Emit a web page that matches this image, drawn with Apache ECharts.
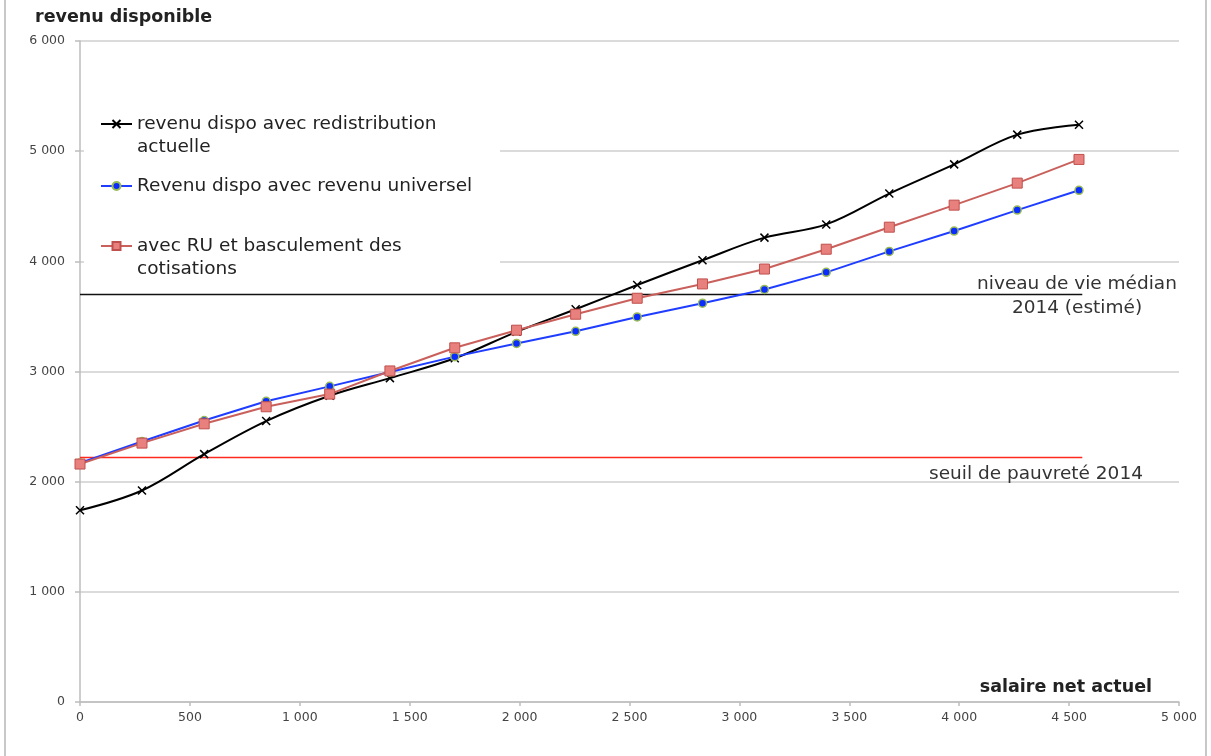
<!DOCTYPE html>
<html>
<head>
<meta charset="utf-8">
<script src="https://cdn.jsdelivr.net/npm/echarts@6/dist/echarts.min.js"></script>
<style>
  html, body { margin: 0; padding: 0; background: #fff; }
  #chart { width: 1211px; height: 756px; }
</style>
</head>
<body>
<div id="chart"></div>
<script>
// Net salary today (x) and the resulting disposable income under three schemes
const salaires = [0, 282, 565, 847, 1136, 1410, 1705, 1986, 2255, 2535, 2832, 3114, 3395, 3682, 3977, 4264, 4545];
const revenuActuel = [1740, 1920, 2250, 2550, 2780, 2940, 3120, 3360, 3565, 3785, 4010, 4215, 4335, 4615, 4880, 5150, 5240];
const revenuUniversel = [2170, 2365, 2555, 2730, 2865, 2995, 3135, 3255, 3365, 3495, 3620, 3745, 3900, 4090, 4275, 4465, 4645];
const revenuBasculement = [2160, 2350, 2525, 2680, 2795, 3005, 3215, 3375, 3520, 3665, 3795, 3930, 4110, 4310, 4510, 4710, 4925];

// Reference levels (monthly income)
const medianeNiveauVie = 3700;
const seuilPauvrete = 2220;
const finReference = 4560;

const xTicks = { min: 0, max: 5000, interval: 500 };
const yTicks = { min: 0, max: 6000, interval: 1000 };

const nomActuel = 'revenu dispo avec redistribution';
const nomUniversel = 'Revenu dispo avec revenu universel';
const nomBasculement = 'avec RU et basculement des';

const FONT = '"DejaVu Sans", "Noto Sans", sans-serif';
const TXT = 18.5;

function milliers(v) {
  return String(v).replace(/\B(?=(\d{3})+(?!\d))/g, ' ');
}
function paires(xs, ys) {
  return xs.map((x, i) => [x, ys[i]]);
}

const chart = echarts.init(document.getElementById('chart'), null, { renderer: 'canvas' });

const legendBase = {
  orient: 'horizontal',
  left: 100,
  itemWidth: 31,
  itemHeight: 10,
  padding: 0,
  selectedMode: false,
  textStyle: { fontFamily: FONT, fontSize: TXT, color: '#222', lineHeight: 22 }
};

chart.setOption({
  backgroundColor: '#fff',
  animation: false,
  grid: { left: 80, right: 32, top: 41, bottom: 54 },
  legend: [
    Object.assign({}, legendBase, { top: 113, data: [nomActuel] }),
    Object.assign({}, legendBase, { top: 175, data: [nomUniversel] }),
    Object.assign({}, legendBase, { top: 235, data: [nomBasculement] })
  ],
  xAxis: {
    type: 'value',
    min: xTicks.min, max: xTicks.max, interval: xTicks.interval,
    axisLine: { show: true, lineStyle: { color: '#bdbdbd', width: 1.5 } },
    axisTick: { show: true, length: 4, lineStyle: { color: '#bdbdbd', width: 1.5 } },
    splitLine: { show: false },
    axisLabel: { formatter: milliers, fontFamily: FONT, fontSize: 12.5, color: '#444', margin: 9 }
  },
  yAxis: {
    type: 'value',
    min: yTicks.min, max: yTicks.max, interval: yTicks.interval,
    axisLine: { show: true, lineStyle: { color: '#bdbdbd', width: 1.5 } },
    axisTick: { show: true, inside: false, length: 5, lineStyle: { color: '#bdbdbd', width: 1.5 } },
    splitLine: { show: true, lineStyle: { color: '#cfcfcf', width: 1.5 } },
    axisLabel: { formatter: milliers, fontFamily: FONT, fontSize: 12.5, color: '#444', margin: 15 }
  },
  graphic: [
    // white panel behind the legend
    { type: 'rect', left: 84, top: 104, z: 1, shape: { width: 416, height: 180 }, style: { fill: '#fff' } },
    // outer frame edges
    { type: 'rect', left: 4, top: 0, z: 1, shape: { width: 2, height: 756 }, style: { fill: '#c8c8c8' } },
    { type: 'rect', left: 1205, top: 0, z: 1, shape: { width: 2, height: 756 }, style: { fill: '#c8c8c8' } },
    // axis titles
    { type: 'text', x: 35, y: 17, z: 5, style: { text: 'revenu disponible', font: 'bold 17.5px ' + FONT, fill: '#222', textVerticalAlign: 'middle' } },
    { type: 'text', x: 1152, y: 687, z: 5, style: { text: 'salaire net actuel', font: 'bold 17.5px ' + FONT, fill: '#222', textAlign: 'right', textVerticalAlign: 'middle' } },
    // continuation lines of the wrapped legend entries
    { type: 'text', x: 137, y: 147, z: 5, style: { text: 'actuelle', font: TXT + 'px ' + FONT, fill: '#222', textVerticalAlign: 'middle' } },
    { type: 'text', x: 137, y: 269, z: 5, style: { text: 'cotisations', font: TXT + 'px ' + FONT, fill: '#222', textVerticalAlign: 'middle' } },
    // reference level captions
    { type: 'text', x: 1077, y: 284, z: 5, style: { text: 'niveau de vie médian', font: TXT + 'px ' + FONT, fill: '#333', textAlign: 'center', textVerticalAlign: 'middle' } },
    { type: 'text', x: 1077, y: 308, z: 5, style: { text: '2014 (estimé)', font: TXT + 'px ' + FONT, fill: '#333', textAlign: 'center', textVerticalAlign: 'middle' } },
    { type: 'text', x: 1036, y: 474, z: 5, style: { text: 'seuil de pauvreté 2014', font: TXT + 'px ' + FONT, fill: '#333', textAlign: 'center', textVerticalAlign: 'middle' } }
  ],
  series: [
    {
      name: 'mediane', type: 'line', z: 2, symbol: 'none', silent: true,
      data: [[0, medianeNiveauVie], [finReference, medianeNiveauVie]],
      lineStyle: { color: '#111', width: 1.5 }
    },
    {
      name: 'seuil', type: 'line', z: 2, symbol: 'none', silent: true,
      data: [[0, seuilPauvrete], [finReference, seuilPauvrete]],
      lineStyle: { color: '#ff2a1f', width: 1.5 }
    },
    {
      name: nomActuel, type: 'line', z: 3, smooth: 0.35,
      data: paires(salaires, revenuActuel),
      symbol: 'path://M0,0L10,10M10,0L0,10', symbolSize: 8,
      lineStyle: { color: '#000', width: 2 },
      itemStyle: { color: '#000', borderColor: '#000', borderWidth: 1.5 }
    },
    {
      name: nomUniversel, type: 'line', z: 4,
      data: paires(salaires, revenuUniversel),
      symbol: 'circle', symbolSize: 8,
      lineStyle: { color: '#1f3dff', width: 2 },
      itemStyle: { color: '#0a2cff', borderColor: '#9bbb59', borderWidth: 1.5 }
    },
    {
      name: nomBasculement, type: 'line', z: 4,
      data: paires(salaires, revenuBasculement),
      symbol: 'rect', symbolSize: 10,
      lineStyle: { color: '#c9605c', width: 2 },
      itemStyle: { color: '#e8817d', borderColor: '#c0504d', borderWidth: 1 }
    }
  ]
});
</script>
</body>
</html>
